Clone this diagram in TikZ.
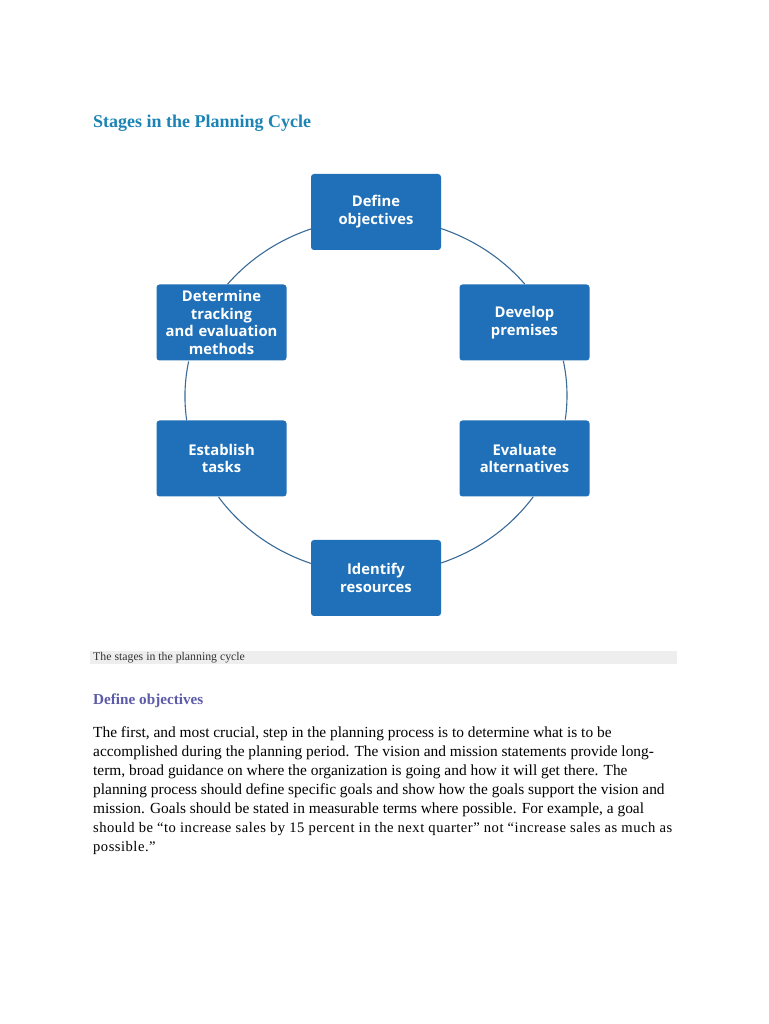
\documentclass[tikz,border=0pt]{standalone}
\usepackage{fontspec}
\setmainfont{Liberation Serif}
\newfontfamily\boxfont{Open Sans}
\newfontfamily\wideserif[LetterSpace=3.4]{Liberation Serif}
\usetikzlibrary{positioning}

\definecolor{stageblue}{HTML}{1F70B8}
\definecolor{ringblue}{HTML}{3A6A96}
\definecolor{titleblue}{HTML}{1C84B4}
\definecolor{headpurple}{HTML}{5C5BA8}
\definecolor{capgray}{HTML}{EEEEEE}

\begin{document}
\begin{tikzpicture}[x=1pt,y=1pt,
    stage/.style={rectangle,rounded corners=3pt,fill=stageblue,text=white,
      minimum width=130pt,minimum height=76pt,inner sep=0pt,text width=128pt,
      align=center,font=\boxfont\bfseries\fontsize{14.8}{17.8}\selectfont},
    ring/.style={draw=ringblue,line width=1.1pt},
    body/.style={anchor=base west,inner sep=0pt,font=\fontsize{15.4}{19}\selectfont}]
    \useasboundingbox (0,0) rectangle (768,1024);
    % title
    \node[anchor=base west,inner sep=0pt,text=titleblue,font=\bfseries\fontsize{18}{20}\selectfont] (title) at (93,896) {Stages in the Planning Cycle};
    % the six stages
    \node[stage] (def) at (376,812) {Define\\objectives};
    \node[stage] (dev) at (524.5,701.5) {Develop\\premises};
    \node[stage] (eval) at (524.5,565.5) {Evaluate\\alternatives};
    \node[stage] (ident) at (376,446) {Identify\\resources};
    \node[stage] (est) at (221.5,565.5) {Establish\\tasks};
    \node[stage] (det) at (221.5,701.5) {Determine\\tracking\\and evaluation\\methods};
    % ring between the stages
    \draw[ring] ([yshift=-16.6pt]def.east) arc[start angle=70.1,end angle=39,x radius=191,y radius=178];
    \draw[ring] ([xshift=38.8pt]dev.south) arc[start angle=11.3,end angle=-7.75,x radius=191,y radius=178];
    \draw[ring] ([xshift=8.8pt]eval.south) arc[start angle=-34.6,end angle=-70.1,x radius=191,y radius=178];
    \draw[ring] ([yshift=14.6pt]ident.west) arc[start angle=-109.9,end angle=-145.4,x radius=191,y radius=178];
    \draw[ring] ([xshift=-34.8pt]est.north) arc[start angle=-172.25,end angle=-191.3,x radius=191,y radius=178];
    \draw[ring] ([xshift=6pt]det.north) arc[start angle=141,end angle=109.9,x radius=191,y radius=178];
    % caption
    \fill[capgray] (90,360) rectangle (677,373);
    \node[anchor=base west,inner sep=0pt,text=black!80,font=\fontsize{11.8}{13}\selectfont] (cap) at (93,363) {The stages in the planning cycle};
    % heading and text
    \node[anchor=base west,inner sep=0pt,text=headpurple,font=\bfseries\fontsize{15.2}{17}\selectfont] (head) at (93,319) {Define objectives};
    \foreach \t [count=\i] in {
      {The first, and most crucial, step in the planning process is to determine what is to be},
      {accomplished during the planning period. The vision and mission statements provide long-},
      {term, broad guidance on where the organization is going and how it will get there. The},
      {planning process should define specific goals and show how the goals support the vision and},
      {mission. Goals should be stated in measurable terms where possible. For example, a goal}}
      \node[body] (line\i) at (93,{286-19*(\i-1)}) {\t};
    \node[body,font=\wideserif\fontsize{14.6}{19}\selectfont] (line6) at (93,191) {should be “to increase sales by 15 percent in the next quarter” not “increase sales as much as};
    \node[body,font=\wideserif\fontsize{14.6}{19}\selectfont] (line7) at (93,172) {possible.”};
\end{tikzpicture}
\end{document}
